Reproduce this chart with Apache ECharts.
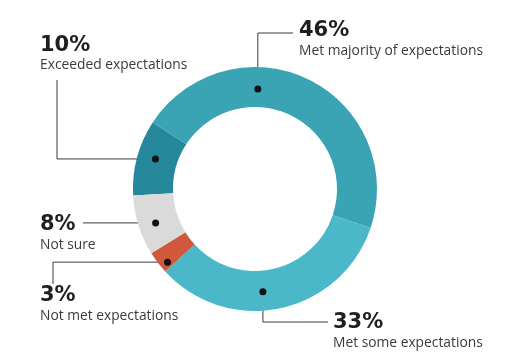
<!DOCTYPE html>
<html>
<head>
<meta charset="utf-8">
<script src="https://cdn.jsdelivr.net/npm/echarts@6/dist/echarts.min.js"></script>
<style>html,body{margin:0;padding:0;background:#fff}#c{width:512px;height:362px}</style>
</head>
<body>
<div id="c"></div>
<script>
// ---- data ----
const categories = ['Exceeded expectations', 'Met majority of expectations', 'Met some expectations', 'Not met expectations', 'Not sure'];
const values = [10, 46, 33, 3, 8];
const percentLabels = ['10%', '46%', '33%', '3%', '8%'];
const colors = ['#24879a', '#3aa4b5', '#4bb8c9', '#cf583d', '#dadada'];

// ---- layout (style only) ----
const CX = 255, CY = 189, R0 = 82, R1 = 122, START = 183;
const labelPos = [[40, 34.5], [299, 20], [333, 312], [40, 285], [40, 214]];
const dotFrac = [0.55, 0.354, 0.564, 0.25, 0.45];
const dotR = [104, 100, 103, 114, 105];
const guides = [
  {dir: 'h', end: [57, 80]},
  {dir: 'v', end: [293, 33]},
  {dir: 'v', end: [328, 322]},
  {dir: 'h', end: [53, 284]},
  {dir: 's', end: [83, null]}
];
const FONT = '"Open Sans", "Liberation Sans", sans-serif';
const FONT_BOLD = '"DejaVu Sans", "Open Sans", sans-serif';

const total = values.reduce((a, b) => a + b, 0);
const dots = [];
let cum = 0;
values.forEach((v, i) => {
  const a0 = START - 360 * cum / total;
  const a1 = a0 - 360 * v / total;
  const a = (a0 + (a1 - a0) * dotFrac[i]) * Math.PI / 180;
  dots.push([CX + dotR[i] * Math.cos(a), CY - dotR[i] * Math.sin(a)]);
  cum += v;
});

function guidePoints(i) {
  const d = dots[i], g = guides[i];
  if (g.dir === 'h') return [d.slice(), [g.end[0], d[1]], [g.end[0], g.end[1]]];
  if (g.dir === 'v') return [d.slice(), [d[0], g.end[1]], [g.end[0], g.end[1]]];
  return [d.slice(), [(d[0] + g.end[0]) / 2, d[1]], [g.end[0], d[1]]];
}

const chart = echarts.init(document.getElementById('c'), null, {renderer: 'canvas'});
chart.setOption({
  animation: false,
  backgroundColor: '#ffffff',
  series: [{
    type: 'pie',
    center: [CX, CY],
    radius: [R0, R1],
    startAngle: START,
    clockwise: true,
    avoidLabelOverlap: false,
    silent: true,
    data: categories.map((c, i) => ({name: c, value: values[i], itemStyle: {color: colors[i]}})),
    label: {
      show: true,
      position: 'outside',
      formatter: p => '{p|' + percentLabels[p.dataIndex] + '}\n{n|' + p.name + '}',
      rich: {
        p: {fontSize: 21, fontWeight: 'bold', color: '#1f1f1f', lineHeight: 22, fontFamily: FONT_BOLD},
        n: {fontSize: 13.8, color: '#3a3a3a', lineHeight: 18, fontFamily: FONT}
      }
    },
    labelLine: {show: true, length: 10, length2: 10, lineStyle: {color: '#3a3a3a', width: 1}},
    labelLayout: function (params) {
      const i = params.dataIndex;
      return {
        x: labelPos[i][0],
        y: labelPos[i][1],
        align: 'left',
        verticalAlign: 'top',
        labelLinePoints: guidePoints(i)
      };
    }
  }],
  graphic: dots.map(d => ({
    type: 'circle',
    z: 100,
    shape: {cx: d[0], cy: d[1], r: 3.5},
    style: {fill: '#111'}
  }))
});
</script>
</body>
</html>
